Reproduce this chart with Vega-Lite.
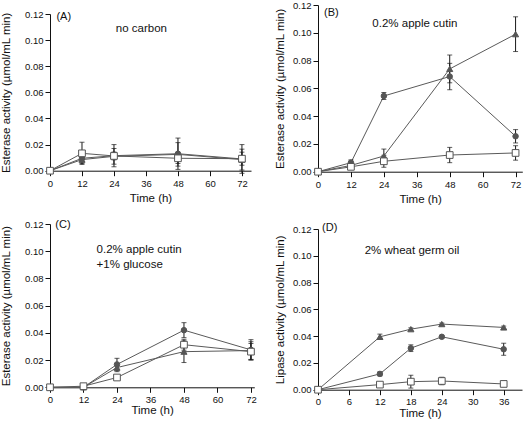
{
  "$schema": "https://vega.github.io/schema/vega-lite/v6.json",
  "padding": {"left": 0, "top": 0, "right": 0, "bottom": 0},
  "config": {
    "view": {"stroke": null},
    "font": "Liberation Sans",
    "axis": {"grid": false, "domainColor": "#111", "tickColor": "#111", "labelColor": "#111", "titleColor": "#111", "labelFontSize": 9.5, "titleFontSize": 11.5, "titleFontWeight": "normal", "tickSize": 5, "labelPadding": 2, "labelFlush": false, "labelFont": "Liberation Sans", "titleFont": "Liberation Sans"}
  },
  "datasets": {
    "A": [
      {"time": 0, "series": "circle", "value": 0, "err": 0},
      {"time": 12, "series": "circle", "value": 0.0095, "err": 0.004},
      {"time": 24, "series": "circle", "value": 0.0115, "err": 0.0085},
      {"time": 48, "series": "circle", "value": 0.013, "err": 0.012},
      {"time": 72, "series": "circle", "value": 0.009, "err": 0.011},
      {"time": 0, "series": "triangle", "value": 0, "err": 0},
      {"time": 12, "series": "triangle", "value": 0.0085, "err": 0.002},
      {"time": 24, "series": "triangle", "value": 0.011, "err": 0.006},
      {"time": 48, "series": "triangle", "value": 0.0125, "err": 0.009},
      {"time": 72, "series": "triangle", "value": 0.0085, "err": 0.008},
      {"time": 0, "series": "square", "value": 0, "err": 0},
      {"time": 12, "series": "square", "value": 0.0133, "err": 0.0085},
      {"time": 24, "series": "square", "value": 0.0113, "err": 0.003},
      {"time": 48, "series": "square", "value": 0.0095, "err": 0.004},
      {"time": 72, "series": "square", "value": 0.0092, "err": 0.005}
    ],
    "B": [
      {"time": 0, "series": "circle", "value": 0, "err": 0},
      {"time": 12, "series": "circle", "value": 0.0065, "err": 0.002},
      {"time": 24, "series": "circle", "value": 0.0545, "err": 0.0025},
      {"time": 48, "series": "circle", "value": 0.0685, "err": 0.0095},
      {"time": 72, "series": "circle", "value": 0.0255, "err": 0.0048},
      {"time": 0, "series": "triangle", "value": 0, "err": 0},
      {"time": 12, "series": "triangle", "value": 0.0045, "err": 0.002},
      {"time": 24, "series": "triangle", "value": 0.0113, "err": 0.005},
      {"time": 48, "series": "triangle", "value": 0.074, "err": 0.01},
      {"time": 72, "series": "triangle", "value": 0.099, "err": 0.0125},
      {"time": 0, "series": "square", "value": 0, "err": 0},
      {"time": 12, "series": "square", "value": 0.0035, "err": 0.001},
      {"time": 24, "series": "square", "value": 0.0075, "err": 0.0043},
      {"time": 48, "series": "square", "value": 0.012, "err": 0.0055},
      {"time": 72, "series": "square", "value": 0.0135, "err": 0.0052}
    ],
    "C": [
      {"time": 0, "series": "circle", "value": 0, "err": 0},
      {"time": 12, "series": "circle", "value": 0, "err": 0},
      {"time": 24, "series": "circle", "value": 0.0168, "err": 0.0045},
      {"time": 48, "series": "circle", "value": 0.042, "err": 0.0055},
      {"time": 72, "series": "circle", "value": 0.0275, "err": 0.0075},
      {"time": 0, "series": "triangle", "value": 0, "err": 0},
      {"time": 12, "series": "triangle", "value": 0, "err": 0},
      {"time": 24, "series": "triangle", "value": 0.0145, "err": 0.003},
      {"time": 48, "series": "triangle", "value": 0.0262, "err": 0.008},
      {"time": 72, "series": "triangle", "value": 0.027, "err": 0.0065},
      {"time": 0, "series": "square", "value": 0, "err": 0},
      {"time": 12, "series": "square", "value": 0.0008, "err": 0},
      {"time": 24, "series": "square", "value": 0.0072, "err": 0.001},
      {"time": 48, "series": "square", "value": 0.0313, "err": 0.004},
      {"time": 72, "series": "square", "value": 0.0262, "err": 0.006}
    ],
    "D": [
      {"time": 0, "series": "circle", "value": 0, "err": 0},
      {"time": 12, "series": "circle", "value": 0.0118, "err": 0.0015},
      {"time": 18, "series": "circle", "value": 0.031, "err": 0.0025},
      {"time": 24, "series": "circle", "value": 0.0395, "err": 0.001},
      {"time": 36, "series": "circle", "value": 0.0302, "err": 0.0045},
      {"time": 0, "series": "triangle", "value": 0, "err": 0},
      {"time": 12, "series": "triangle", "value": 0.0395, "err": 0.002},
      {"time": 18, "series": "triangle", "value": 0.0452, "err": 0.001},
      {"time": 24, "series": "triangle", "value": 0.049, "err": 0.0008},
      {"time": 36, "series": "triangle", "value": 0.0465, "err": 0.001},
      {"time": 0, "series": "square", "value": 0, "err": 0},
      {"time": 12, "series": "square", "value": 0.0038, "err": 0.0015},
      {"time": 18, "series": "square", "value": 0.006, "err": 0.0048},
      {"time": 24, "series": "square", "value": 0.0065, "err": 0.0028},
      {"time": 36, "series": "square", "value": 0.0043, "err": 0.0008}
    ]
  },
  "spacing": 17,
  "hconcat": [
    {
      "spacing": 14,
      "vconcat": [
        {
          "width": 201, "height": 165.7,
          "data": {"name": "A"},
          "encoding": {
            "x": {"field": "time", "type": "quantitative", "scale": {"domain": [0, 75.4], "nice": false, "zero": false}, "axis": {"values": [0, 12, 24, 36, 48, 60, 72], "title": "Time (h)", "labelPadding": 3, "titlePadding": 4}},
            "y": {"field": "value", "type": "quantitative", "scale": {"domain": [0, 0.12], "nice": false, "range": [165.7, 9]}, "axis": {"values": [0, 0.02, 0.04, 0.06, 0.08, 0.1, 0.12], "format": ".2f", "title": "Esterase activity (µmol/mL min)", "titlePadding": 13}}
          },
          "layer": [
            {"mark": {"type": "line", "color": "#5a5a5a", "strokeWidth": 1}, "encoding": {"detail": {"field": "series"}}},
            {"mark": {"type": "errorbar", "ticks": {"size": 5}, "color": "#1a1a1a"}, "encoding": {"yError": {"field": "err"}}},
            {"mark": {"type": "point", "filled": true, "opacity": 1, "stroke": "#555", "strokeWidth": 1},
             "encoding": {
               "shape": {"field": "series", "scale": {"domain": ["circle", "triangle", "square"], "range": ["circle", "triangle-up", "square"]}, "legend": null},
               "fill": {"field": "series", "scale": {"domain": ["circle", "triangle", "square"], "range": ["#555555", "#555555", "#ffffff"]}, "legend": null},
               "size": {"field": "series", "scale": {"domain": ["circle", "triangle", "square"], "range": [30, 45, 42]}, "legend": null}
             }},
            {"transform": [{"filter": "datum.time == 0 && datum.series == 'circle'"}], "mark": {"type": "text", "align": "left", "baseline": "middle", "fontSize": 11, "color": "#111", "font": "Liberation Sans"}, "encoding": {"x": {"datum": 2.4}, "y": {"datum": 0.118}, "text": {"value": "(A)"}}},
            {"transform": [{"filter": "datum.time == 0 && datum.series == 'circle'"}], "mark": {"type": "text", "align": "left", "baseline": "middle", "fontSize": 11.5, "color": "#111", "font": "Liberation Sans"}, "encoding": {"x": {"datum": 24.7}, "y": {"datum": 0.1085}, "text": {"value": "no carbon"}}}
          ]
        },
        {
          "width": 204.3, "height": 163.3,
          "data": {"name": "C"},
          "encoding": {
            "x": {"field": "time", "type": "quantitative", "scale": {"domain": [0, 73.2], "nice": false, "zero": false}, "axis": {"values": [0, 12, 24, 36, 48, 60, 72], "title": "Time (h)", "labelPadding": 2, "titlePadding": 1}},
            "y": {"field": "value", "type": "quantitative", "scale": {"domain": [0, 0.12], "nice": false}, "axis": {"values": [0, 0.02, 0.04, 0.06, 0.08, 0.1, 0.12], "format": ".2f", "title": "Esterase activity (µmol/mL min)", "titlePadding": 13}}
          },
          "layer": [
            {"mark": {"type": "line", "color": "#5a5a5a", "strokeWidth": 1}, "encoding": {"detail": {"field": "series"}}},
            {"mark": {"type": "errorbar", "ticks": {"size": 5}, "color": "#1a1a1a"}, "encoding": {"yError": {"field": "err"}}},
            {"mark": {"type": "point", "filled": true, "opacity": 1, "stroke": "#555", "strokeWidth": 1},
             "encoding": {
               "shape": {"field": "series", "scale": {"domain": ["circle", "triangle", "square"], "range": ["circle", "triangle-up", "square"]}, "legend": null},
               "fill": {"field": "series", "scale": {"domain": ["circle", "triangle", "square"], "range": ["#555555", "#555555", "#ffffff"]}, "legend": null},
               "size": {"field": "series", "scale": {"domain": ["circle", "triangle", "square"], "range": [30, 45, 42]}, "legend": null}
             }},
            {"transform": [{"filter": "datum.time == 0 && datum.series == 'circle'"}], "mark": {"type": "text", "align": "left", "baseline": "middle", "fontSize": 11, "color": "#111", "font": "Liberation Sans"}, "encoding": {"x": {"datum": 1.9}, "y": {"datum": 0.1193}, "text": {"value": "(C)"}}},
            {"transform": [{"filter": "datum.time == 0 && datum.series == 'circle'"}], "mark": {"type": "text", "align": "left", "baseline": "middle", "fontSize": 11.5, "color": "#111", "font": "Liberation Sans"}, "encoding": {"x": {"datum": 16.7}, "y": {"datum": 0.1009}, "text": {"value": "0.2% apple cutin"}}},
            {"transform": [{"filter": "datum.time == 0 && datum.series == 'circle'"}], "mark": {"type": "text", "align": "left", "baseline": "middle", "fontSize": 11.5, "color": "#111", "font": "Liberation Sans"}, "encoding": {"x": {"datum": 16.7}, "y": {"datum": 0.0899}, "text": {"value": "+1% glucose"}}}
          ]
        }
      ]
    },
    {
      "spacing": 17,
      "vconcat": [
        {
          "width": 204.3, "height": 166.7,
          "data": {"name": "B"},
          "encoding": {
            "x": {"field": "time", "type": "quantitative", "scale": {"domain": [0, 74.45], "nice": false, "zero": false}, "axis": {"values": [0, 12, 24, 36, 48, 60, 72], "title": "Time (h)", "labelPadding": 3, "titlePadding": 4}},
            "y": {"field": "value", "type": "quantitative", "scale": {"domain": [0, 0.12], "nice": false}, "axis": {"values": [0, 0.02, 0.04, 0.06, 0.08, 0.1, 0.12], "format": ".2f", "title": "Esterase activity (µmol/mL min)", "titlePadding": 7}}
          },
          "layer": [
            {"mark": {"type": "line", "color": "#5a5a5a", "strokeWidth": 1}, "encoding": {"detail": {"field": "series"}}},
            {"mark": {"type": "errorbar", "ticks": {"size": 5}, "color": "#1a1a1a"}, "encoding": {"yError": {"field": "err"}}},
            {"mark": {"type": "point", "filled": true, "opacity": 1, "stroke": "#555", "strokeWidth": 1},
             "encoding": {
               "shape": {"field": "series", "scale": {"domain": ["circle", "triangle", "square"], "range": ["circle", "triangle-up", "square"]}, "legend": null},
               "fill": {"field": "series", "scale": {"domain": ["circle", "triangle", "square"], "range": ["#555555", "#555555", "#ffffff"]}, "legend": null},
               "size": {"field": "series", "scale": {"domain": ["circle", "triangle", "square"], "range": [30, 45, 42]}, "legend": null}
             }},
            {"transform": [{"filter": "datum.time == 0 && datum.series == 'circle'"}], "mark": {"type": "text", "align": "left", "baseline": "middle", "fontSize": 11, "color": "#111", "font": "Liberation Sans"}, "encoding": {"x": {"datum": 2.2}, "y": {"datum": 0.114}, "text": {"value": "(B)"}}},
            {"transform": [{"filter": "datum.time == 0 && datum.series == 'circle'"}], "mark": {"type": "text", "align": "left", "baseline": "middle", "fontSize": 11.5, "color": "#111", "font": "Liberation Sans"}, "encoding": {"x": {"datum": 19.8}, "y": {"datum": 0.1061}, "text": {"value": "0.2% apple cutin"}}}
          ]
        },
        {
          "width": 204, "height": 160.7,
          "data": {"name": "D"},
          "encoding": {
            "x": {"field": "time", "type": "quantitative", "scale": {"domain": [0, 39.55], "nice": false, "zero": false}, "axis": {"values": [0, 6, 12, 18, 24, 30, 36], "title": "Time (h)", "labelPadding": 2, "titlePadding": 1}},
            "y": {"field": "value", "type": "quantitative", "scale": {"domain": [0, 0.12], "nice": false}, "axis": {"values": [0, 0.02, 0.04, 0.06, 0.08, 0.1, 0.12], "format": ".2f", "title": "Lipase activity (µmol/mL min)", "titlePadding": 7}}
          },
          "layer": [
            {"mark": {"type": "line", "color": "#5a5a5a", "strokeWidth": 1}, "encoding": {"detail": {"field": "series"}}},
            {"mark": {"type": "errorbar", "ticks": {"size": 5}, "color": "#1a1a1a"}, "encoding": {"yError": {"field": "err"}}},
            {"mark": {"type": "point", "filled": true, "opacity": 1, "stroke": "#555", "strokeWidth": 1},
             "encoding": {
               "shape": {"field": "series", "scale": {"domain": ["circle", "triangle", "square"], "range": ["circle", "triangle-up", "square"]}, "legend": null},
               "fill": {"field": "series", "scale": {"domain": ["circle", "triangle", "square"], "range": ["#555555", "#555555", "#ffffff"]}, "legend": null},
               "size": {"field": "series", "scale": {"domain": ["circle", "triangle", "square"], "range": [30, 45, 42]}, "legend": null}
             }},
            {"transform": [{"filter": "datum.time == 0 && datum.series == 'circle'"}], "mark": {"type": "text", "align": "left", "baseline": "middle", "fontSize": 11, "color": "#111", "font": "Liberation Sans"}, "encoding": {"x": {"datum": 0.78}, "y": {"datum": 0.1207}, "text": {"value": "(D)"}}},
            {"transform": [{"filter": "datum.time == 0 && datum.series == 'circle'"}], "mark": {"type": "text", "align": "left", "baseline": "middle", "fontSize": 11.5, "color": "#111", "font": "Liberation Sans"}, "encoding": {"x": {"datum": 9.05}, "y": {"datum": 0.1033}, "text": {"value": "2% wheat germ oil"}}}
          ]
        }
      ]
    }
  ]
}
